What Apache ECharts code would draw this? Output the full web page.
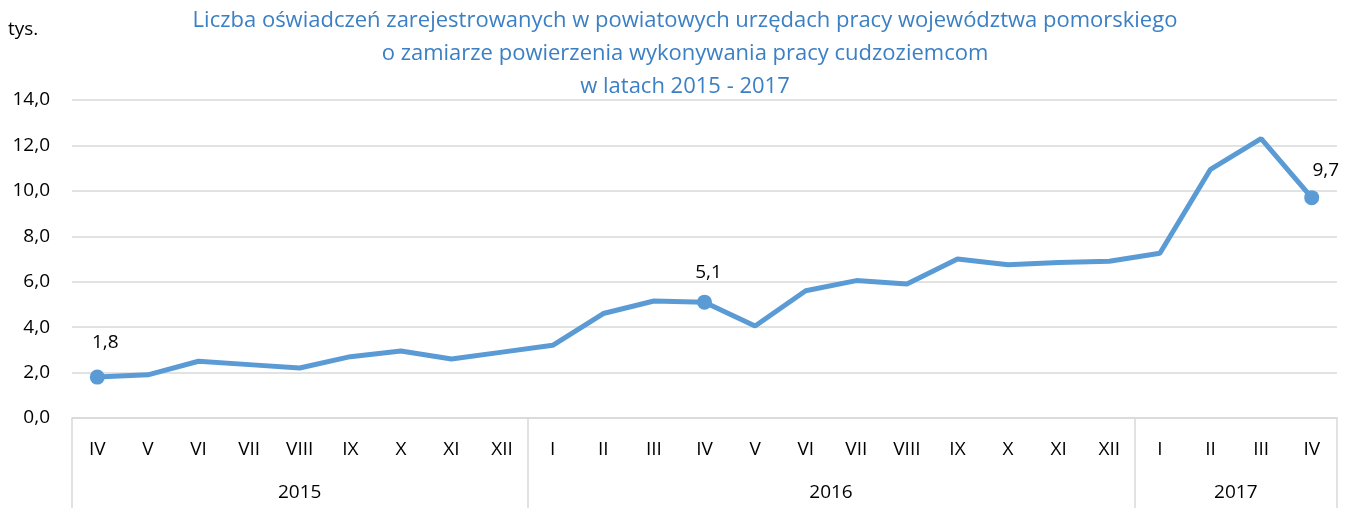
<!DOCTYPE html>
<html>
<head>
<meta charset="utf-8">
<script src="https://cdn.jsdelivr.net/npm/echarts@6/dist/echarts.min.js"></script>
<style>
  html, body { margin: 0; padding: 0; background: #fff; }
  #chart { width: 1356px; height: 508px; }
</style>
</head>
<body>
<div id="chart"></div>
<script>
var months = ['IV', 'V', 'VI', 'VII', 'VIII', 'IX', 'X', 'XI', 'XII',
              'I', 'II', 'III', 'IV', 'V', 'VI', 'VII', 'VIII', 'IX', 'X', 'XI', 'XII',
              'I', 'II', 'III', 'IV'];
var values = [1.8, 1.9, 2.5, 2.35, 2.2, 2.7, 2.95, 2.6, 2.9,
              3.2, 4.6, 5.15, 5.1, 4.05, 5.6, 6.05, 5.9, 7.0, 6.75, 6.85, 6.9,
              7.25, 10.95, 12.3, 9.7];
var years = ['2015', '2016', '2017'];
var yearCounts = [9, 12, 4];
var labelled = [0, 12, 24];
var yTicks = [0, 2, 4, 6, 8, 10, 12, 14];

window.onload = function () {
  var chart = echarts.init(document.getElementById('chart'));
  var font = '"Open Sans", "Noto Sans", sans-serif';

  // year group boundaries and middles, in category units
  var bounds = [0], mids = [], pos = 0;
  for (var i = 0; i < yearCounts.length; i++) {
    mids.push(pos + yearCounts[i] / 2);
    pos += yearCounts[i];
    bounds.push(pos);
  }

  var labelOffsets = { 0: [8, 0], 12: [4, 5], 24: [14, 8] };

  var seriesData = values.map(function (v, i) {
    if (labelled.indexOf(i) < 0) return v;
    return {
      value: v,
      symbol: 'circle',
      symbolSize: 15,
      label: {
        show: true,
        position: 'top',
        distance: 18,
        offset: labelOffsets[i],
        color: '#000',
        fontSize: 19,
        fontFamily: font,
        formatter: function (p) { return p.value.toFixed(1).replace('.', ','); }
      }
    };
  });

  var option = {
    animation: false,
    title: {
      text: 'Liczba oświadczeń zarejestrowanych w powiatowych urzędach pracy województwa pomorskiego\no zamiarze powierzenia wykonywania pracy cudzoziemcom\nw latach 2015 - 2017',
      left: 680,
      textAlign: 'center',
      top: -1,
      textStyle: {
        color: '#3B7FC4',
        fontSize: 22,
        fontWeight: 'normal',
        fontFamily: font,
        lineHeight: 33
      }
    },
    graphic: [{
      type: 'text',
      left: 8,
      top: 20,
      style: { text: 'tys.', fontSize: 19, fontFamily: font, fill: '#000' }
    }],
    grid: { left: 72, right: 19, top: 100, bottom: 90 },
    xAxis: [
      {
        type: 'category',
        data: months,
        boundaryGap: true,
        axisLine: { lineStyle: { color: '#D9D9D9', width: 1.5 } },
        axisTick: { show: false },
        axisLabel: { color: '#000', fontSize: 19, fontFamily: font, margin: 22, interval: 0 }
      },
      {
        type: 'value',
        position: 'bottom',
        min: 0,
        max: months.length,
        axisLine: { show: false },
        splitLine: { show: false },
        axisTick: {
          show: true,
          length: 90,
          customValues: bounds,
          lineStyle: { color: '#D9D9D9', width: 1.5 }
        },
        axisLabel: {
          color: '#000',
          fontSize: 19,
          fontFamily: font,
          margin: 65,
          customValues: mids,
          formatter: function (v) { return years[mids.indexOf(v)]; }
        }
      }
    ],
    yAxis: {
      type: 'value',
      min: 0,
      max: 14,
      interval: 2,
      axisLine: { show: false },
      axisTick: { show: false },
      splitLine: { lineStyle: { color: '#D9D9D9', width: 1.5 } },
      axisLabel: {
        color: '#000',
        fontSize: 19,
        fontFamily: font,
        margin: 22,
        customValues: yTicks,
        formatter: function (v) { return v.toFixed(1).replace('.', ','); }
      }
    },
    series: [{
      type: 'line',
      data: seriesData,
      symbol: 'none',
      lineStyle: { color: '#5B9BD5', width: 5 },
      itemStyle: { color: '#5B9BD5' }
    }]
  };
  chart.setOption(option);
};
</script>
</body>
</html>
